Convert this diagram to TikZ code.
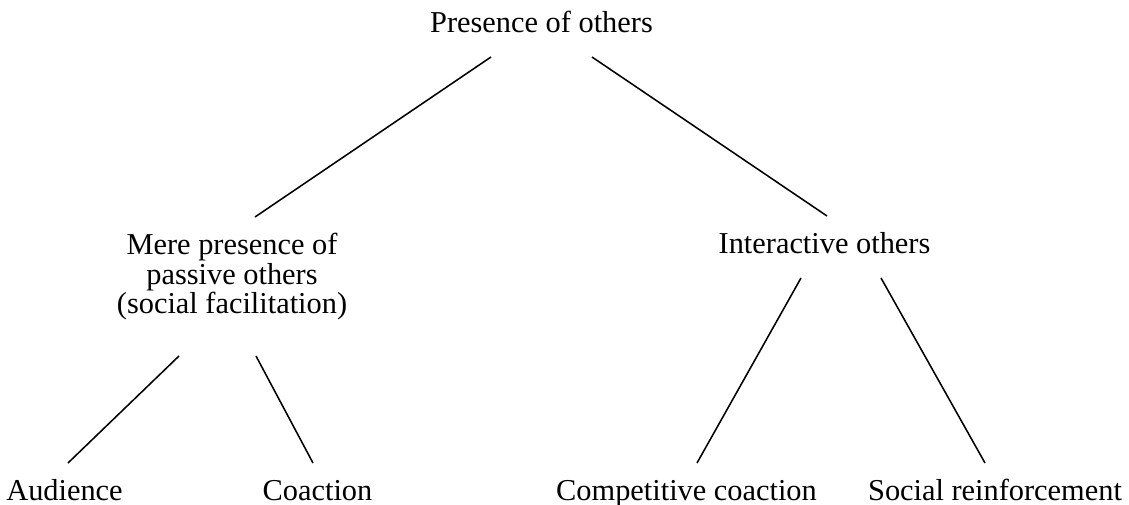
\documentclass[tikz,border=0pt]{standalone}
\usepackage{fontspec}
\setmainfont{Liberation Serif}
\begin{document}
\begin{tikzpicture}
 [x=0.25cm,y=-0.25cm,line width=1.1pt,every node/.style={anchor=base,inner sep=0pt,align=center,font=\fontsize{21.6}{21.3}\selectfont}]
  \useasboundingbox (0,0) rectangle (112.9,50.5);
  \node (p) at (54.15,3.3) {Presence of others};
  \node (mere) at (23.2,31.4) {Mere presence of\\passive others\\(social facilitation)};
  \node (inter) at (82.45,25.4) {Interactive others};
  \node (aud) at (6.45,50) {Audience};
  \node (coa) at (31.75,50) {Coaction};
  \node (comp) at (68.65,50) {Competitive coaction};
  \node (soc) at (99.5,50) {Social reinforcement};

  \draw ([shift={(-5.05,2.4)}]p.base) -- ([shift={(2.3,-9.7)}]mere.base);
  \draw ([shift={(5.05,2.4)}]p.base) -- ([shift={(0.25,-3.8)}]inter.base);
  \draw ([shift={(-5.3,4.2)}]mere.base) -- ([shift={(0.35,-3.7)}]aud.base);
  \draw ([shift={(2.4,4.2)}]mere.base) -- ([shift={(-0.45,-3.7)}]coa.base);
  \draw ([shift={(-2.35,2.4)}]inter.base) -- ([shift={(1.05,-3.7)}]comp.base);
  \draw ([shift={(5.65,2.4)}]inter.base) -- ([shift={(-1.0,-3.7)}]soc.base);
\end{tikzpicture}
\end{document}
